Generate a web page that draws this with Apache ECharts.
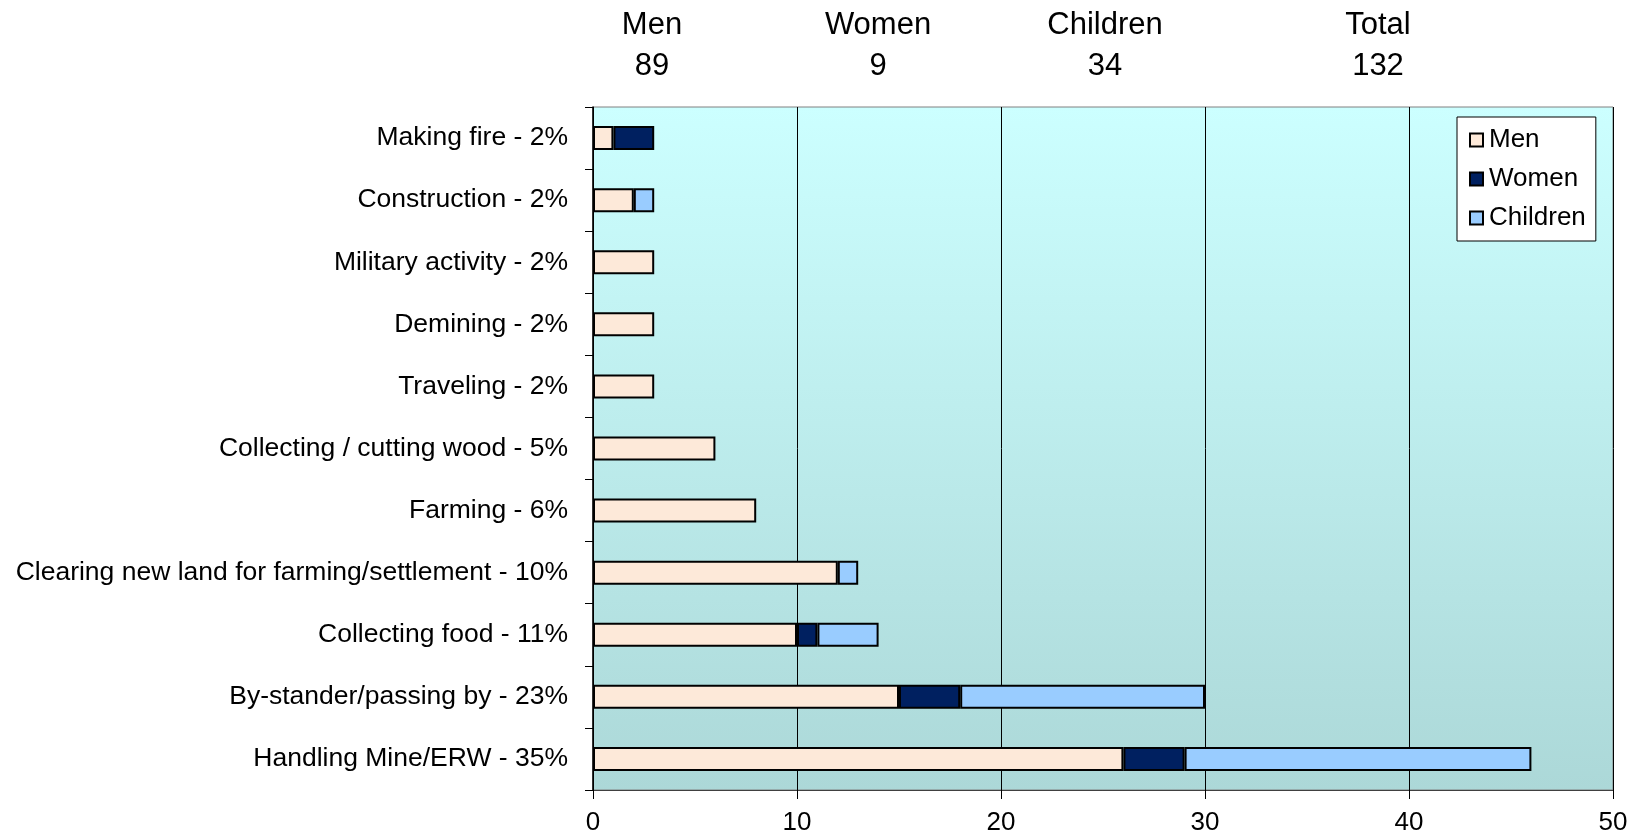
<!DOCTYPE html>
<html>
<head>
<meta charset="utf-8">
<script src="https://cdn.jsdelivr.net/npm/echarts@6/dist/echarts.min.js"></script>
<style>
html,body{margin:0;padding:0;background:#fff;}
#chart{width:1630px;height:837px;}
</style>
</head>
<body>
<div id="chart"></div>
<script>
const categories = [
  "Making fire - 2%",
  "Construction - 2%",
  "Military activity - 2%",
  "Demining - 2%",
  "Traveling - 2%",
  "Collecting / cutting wood - 5%",
  "Farming - 6%",
  "Clearing new land for farming/settlement - 10%",
  "Collecting food - 11%",
  "By-stander/passing by - 23%",
  "Handling Mine/ERW - 35%"
];
const men      = [1, 2, 3, 3, 3, 6, 8, 12, 10, 15, 26];
const women    = [2, 0, 0, 0, 0, 0, 0, 0, 1, 3, 3];
const children = [0, 1, 0, 0, 0, 0, 0, 1, 3, 12, 17];
const xTicks = [0, 10, 20, 30, 40, 50];
const headerNames = ["Men", "Women", "Children", "Total"];

const sum = a => a.reduce((s, v) => s + v, 0);
const headerValues = [sum(men), sum(women), sum(children), sum(men) + sum(women) + sum(children)];
const headerX = [652, 878, 1105, 1378];

const FONT = "Liberation Sans, Arial, sans-serif";
const chart = echarts.init(document.getElementById('chart'), null, {renderer: 'canvas'});

const graphics = headerNames.map((n, i) => ({
  type: 'text',
  x: headerX[i],
  y: 46,
  style: {
    text: n + "\n" + headerValues[i],
    fontFamily: FONT,
    fontSize: 31,
    lineHeight: 41,
    fill: '#000',
    align: 'center',
    verticalAlign: 'middle'
  }
}));

const barStyle = c => ({color: c, borderColor: '#000', borderWidth: 2});
const zeroToNull = a => a.map(v => v === 0 ? null : v);

chart.setOption({
  animation: false,
  backgroundColor: '#fff',
  graphic: graphics,
  grid: {
    left: 593, right: 17, top: 107, bottom: 47,
    outerBoundsMode: 'none',
    containLabel: false,
    show: true,
    borderColor: '#808080',
    borderWidth: 1,
    backgroundColor: {
      type: 'linear', x: 0, y: 0, x2: 0, y2: 1,
      colorStops: [{offset: 0, color: '#ccffff'}, {offset: 1, color: '#acd8d8'}]
    }
  },
  legend: {
    orient: 'vertical',
    left: 1457, top: 117,
    padding: [10, 10, 10, 12],
    backgroundColor: '#fff',
    borderColor: '#000',
    borderWidth: 1,
    icon: 'rect',
    itemWidth: 13, itemHeight: 13,
    itemGap: 13,
    textStyle: {fontFamily: FONT, fontSize: 26, color: '#000', padding: [0, 0, 0, 1]},
    data: ['Men', 'Women', 'Children'],
    itemStyle: {borderColor: '#000', borderWidth: 2}
  },
  xAxis: {
    type: 'value',
    min: 0, max: 50, interval: 10,
    axisLine: {show: true, lineStyle: {color: '#404040', width: 1}},
    axisTick: {show: true, length: 9, lineStyle: {color: '#000'}},
    axisLabel: {fontFamily: FONT, fontSize: 26, color: '#000', margin: 20,
      formatter: v => xTicks.includes(v) ? String(v) : ''},
    splitLine: {show: true, lineStyle: {color: '#000', width: 1}}
  },
  yAxis: {
    type: 'category',
    inverse: true,
    data: categories,
    axisLine: {show: true, lineStyle: {color: '#000', width: 1.5}},
    axisTick: {show: true, length: 8, inside: false, alignWithLabel: false, lineStyle: {color: '#000'}},
    axisLabel: {fontFamily: FONT, fontSize: 26.5, color: '#000', margin: 25},
    splitLine: {show: false}
  },
  series: [
    {name: 'Men', type: 'bar', stack: 't', barWidth: 24, data: men, itemStyle: barStyle('#fde9d9')},
    {name: 'Women', type: 'bar', stack: 't', barWidth: 24, data: zeroToNull(women), itemStyle: barStyle('#002060')},
    {name: 'Children', type: 'bar', stack: 't', barWidth: 24, data: zeroToNull(children), itemStyle: barStyle('#99ccff')}
  ]
});
</script>
</body>
</html>
